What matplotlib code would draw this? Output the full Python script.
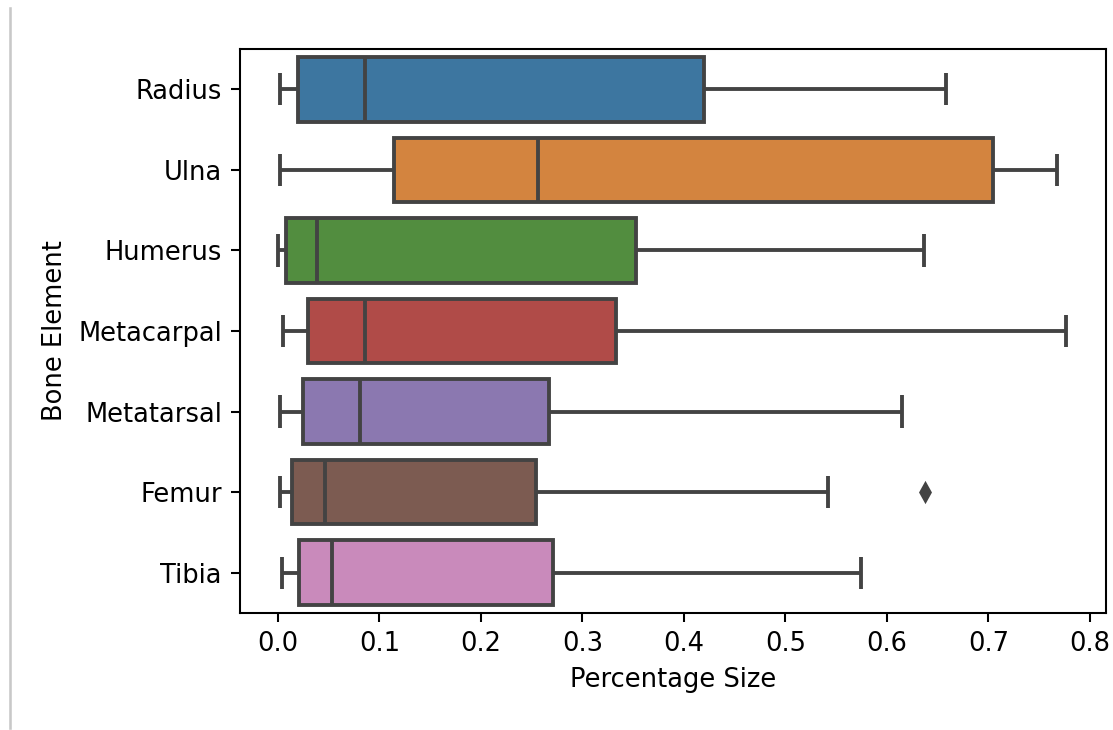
import colorsys
import matplotlib
matplotlib.use("Agg")
import matplotlib.pyplot as plt
from matplotlib.lines import Line2D

# Summary statistics per bone element (fraction of full size)
categories = ["Radius", "Ulna", "Humerus", "Metacarpal", "Metatarsal", "Femur", "Tibia"]
whisker_low = [0.002, 0.002, 0.000, 0.005, 0.002, 0.002, 0.004]
q1 = [0.020, 0.114, 0.008, 0.030, 0.025, 0.014, 0.021]
median = [0.086, 0.256, 0.038, 0.086, 0.081, 0.046, 0.053]
q3 = [0.420, 0.704, 0.353, 0.333, 0.267, 0.254, 0.271]
whisker_high = [0.658, 0.768, 0.636, 0.776, 0.615, 0.542, 0.574]
outliers = [[], [], [], [], [], [0.637], []]

x_label = "Percentage Size"
y_label = "Bone Element"

# muted box fills
colors = ["#3d76a0", "#d3843f", "#528d3f", "#b04b48", "#8b78b0", "#7c5b51", "#c98abb"]
gray = "#434343"

dpi = 185.5
fig = plt.figure(figsize=(1113 / dpi, 730 / dpi), dpi=dpi)
ax = fig.add_axes([240 / 1113, 1 - 613 / 730, 866 / 1113, 564 / 730])

stats = []
for i, name in enumerate(categories):
    stats.append(dict(label=name, whislo=whisker_low[i], q1=q1[i], med=median[i],
                      q3=q3[i], whishi=whisker_high[i], fliers=outliers[i]))

lw = 1.5
art = ax.bxp(stats, positions=range(len(categories)), widths=0.8, vert=False,
             patch_artist=True, showfliers=True,
             boxprops=dict(edgecolor=gray, linewidth=lw),
             whiskerprops=dict(color=gray, linewidth=lw, solid_capstyle="butt"),
             capprops=dict(color=gray, linewidth=lw, solid_capstyle="butt"),
             medianprops=dict(color=gray, linewidth=lw, solid_capstyle="butt"),
             flierprops=dict(marker="d", markerfacecolor=gray, markeredgecolor=gray,
                             markersize=5, linestyle="none"))
for patch, c in zip(art["boxes"], colors):
    patch.set_facecolor(c)
    patch.set_zorder(2)

ax.set_ylim(len(categories) - 0.5, -0.5)
ax.set_yticks(range(len(categories)))
ax.set_yticklabels(categories)
ax.set_xlim(-0.0374, 0.8158)
ax.set_xticks([0.0, 0.1, 0.2, 0.3, 0.4, 0.5, 0.6, 0.7, 0.8])
ax.set_xticklabels(["0.0", "0.1", "0.2", "0.3", "0.4", "0.5", "0.6", "0.7", "0.8"])
ax.set_xlabel(x_label)
ax.set_ylabel(y_label)

# thin grey rule at the left edge of the canvas
fig.add_artist(Line2D([10 / 1113, 10 / 1113], [2 / 730, 1 - 8 / 730],
                      transform=fig.transFigure, color="#c8c8c8", linewidth=1.0))

fig.savefig("out.png", dpi=dpi)
